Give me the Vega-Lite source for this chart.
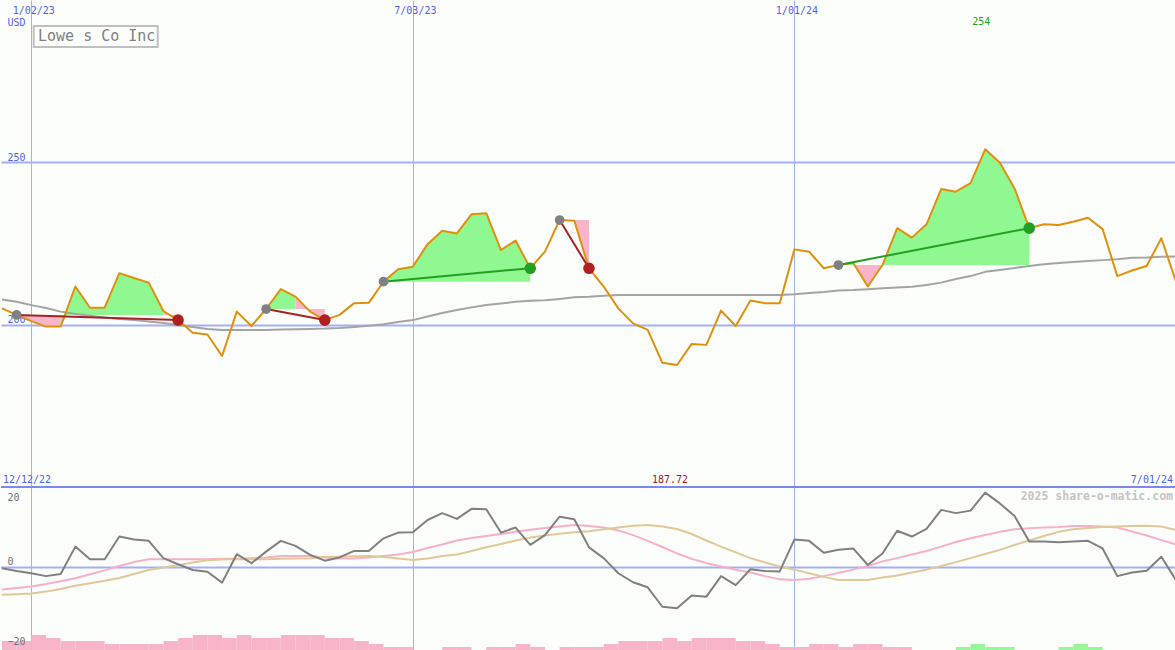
{
"$schema":"https://vega.github.io/schema/vega-lite/v6.json",
"background":"#fcfefc",
"padding":0,
"spacing":0,
"bounds":"flush",
"config":{"view":{"stroke":null},"font":"DejaVu Sans Mono","line":{"strokeJoin":"round","clip":true},"area":{"clip":true},"rule":{"clip":true}},
"resolve":{"scale":{"x":"independent","y":"independent","color":"independent"}},
"datasets":{
"px":[
{"d":"2022-12-19","v":205.1,"m":207.8},{"d":"2022-12-26","v":203.1,"m":207.1},{"d":"2023-01-02","v":201.2,"m":206.1},{"d":"2023-01-09","v":199.5,"m":205.2},{"d":"2023-01-16","v":199.5,"m":204.1},{"d":"2023-01-23","v":211.8,"m":203.4},{"d":"2023-01-30","v":205.3,"m":202.8},{"d":"2023-02-06","v":205.3,"m":202.3},{"d":"2023-02-13","v":215.9,"m":201.8},{"d":"2023-02-20","v":214.4,"m":201.5},{"d":"2023-02-27","v":213.0,"m":201.1},{"d":"2023-03-06","v":204.3,"m":200.6},{"d":"2023-03-13","v":201.5,"m":200.0},{"d":"2023-03-20","v":197.6,"m":199.4},{"d":"2023-03-27","v":197.1,"m":198.8},{"d":"2023-04-03","v":190.5,"m":198.5},{"d":"2023-04-10","v":204.1,"m":198.5},{"d":"2023-04-17","v":199.7,"m":198.5},{"d":"2023-04-24","v":204.9,"m":198.5},{"d":"2023-05-01","v":211.0,"m":198.6},{"d":"2023-05-08","v":208.7,"m":198.7},{"d":"2023-05-15","v":204.1,"m":198.8},{"d":"2023-05-22","v":201.5,"m":198.9},{"d":"2023-05-29","v":203.1,"m":199.1},{"d":"2023-06-05","v":206.7,"m":199.4},{"d":"2023-06-12","v":206.8,"m":199.8},{"d":"2023-06-19","v":213.3,"m":200.2},{"d":"2023-06-26","v":217.1,"m":200.9},{"d":"2023-07-03","v":217.9,"m":201.5},{"d":"2023-07-10","v":224.8,"m":202.6},{"d":"2023-07-17","v":228.9,"m":203.7},{"d":"2023-07-24","v":228.1,"m":204.6},{"d":"2023-07-31","v":234.0,"m":205.4},{"d":"2023-08-07","v":234.3,"m":206.1},{"d":"2023-08-14","v":223.0,"m":206.6},{"d":"2023-08-21","v":225.9,"m":207.1},{"d":"2023-08-28","v":217.4,"m":207.4},{"d":"2023-09-04","v":222.5,"m":207.6},{"d":"2023-09-11","v":232.2,"m":208.0},{"d":"2023-09-18","v":232.0,"m":208.5},{"d":"2023-09-25","v":217.4,"m":208.7},{"d":"2023-10-02","v":211.8,"m":209.0},{"d":"2023-10-09","v":205.1,"m":209.2},{"d":"2023-10-16","v":200.5,"m":209.2},{"d":"2023-10-23","v":198.5,"m":209.2},{"d":"2023-10-30","v":188.4,"m":209.2},{"d":"2023-11-06","v":187.72,"m":209.2},{"d":"2023-11-13","v":194.2,"m":209.2},{"d":"2023-11-20","v":193.9,"m":209.2},{"d":"2023-11-27","v":204.4,"m":209.2},{"d":"2023-12-04","v":199.7,"m":209.2},{"d":"2023-12-11","v":207.5,"m":209.2},{"d":"2023-12-18","v":206.7,"m":209.2},{"d":"2023-12-25","v":206.7,"m":209.2},{"d":"2024-01-01","v":223.2,"m":209.4},{"d":"2024-01-08","v":222.5,"m":209.8},{"d":"2024-01-15","v":217.4,"m":210.1},{"d":"2024-01-22","v":218.4,"m":210.6},{"d":"2024-01-29","v":219.1,"m":210.7},{"d":"2024-02-05","v":211.8,"m":211.0},{"d":"2024-02-12","v":218.4,"m":211.3},{"d":"2024-02-19","v":229.7,"m":211.5},{"d":"2024-02-26","v":226.8,"m":211.7},{"d":"2024-03-04","v":230.9,"m":212.3},{"d":"2024-03-11","v":241.7,"m":213.0},{"d":"2024-03-18","v":240.9,"m":214.1},{"d":"2024-03-25","v":243.5,"m":215.0},{"d":"2024-04-01","v":253.9,"m":216.3},{"d":"2024-04-08","v":249.8,"m":216.9},{"d":"2024-04-15","v":241.9,"m":217.5},{"d":"2024-04-22","v":229.7,"m":218.1},{"d":"2024-04-29","v":230.9,"m":218.6},{"d":"2024-05-06","v":230.7,"m":219.0},{"d":"2024-05-13","v":231.7,"m":219.3},{"d":"2024-05-20","v":232.9,"m":219.6},{"d":"2024-05-27","v":229.4,"m":219.9},{"d":"2024-06-03","v":215.0,"m":220.2},{"d":"2024-06-10","v":216.7,"m":220.6},{"d":"2024-06-17","v":218.1,"m":220.7},{"d":"2024-06-24","v":226.6,"m":220.9},{"d":"2024-07-01","v":213.3,"m":221.0}
],
"fills":[
{"g":1,"d":"2022-12-26","v":203.1,"b":203.1,"s":"down"},{"g":1,"d":"2023-01-02","v":201.2,"b":203.1,"s":"down"},{"g":1,"d":"2023-01-09","v":199.5,"b":203.1,"s":"down"},{"g":1,"d":"2023-01-16","v":199.5,"b":203.1,"s":"down"},
{"g":2,"d":"2023-01-16","v":199.5,"b":203.1,"s":"up"},{"g":2,"d":"2023-01-23","v":211.8,"b":203.1,"s":"up"},{"g":2,"d":"2023-01-30","v":205.3,"b":203.1,"s":"up"},{"g":2,"d":"2023-02-06","v":205.3,"b":203.1,"s":"up"},{"g":2,"d":"2023-02-13","v":215.9,"b":203.1,"s":"up"},{"g":2,"d":"2023-02-20","v":214.4,"b":203.1,"s":"up"},{"g":2,"d":"2023-02-27","v":213.0,"b":203.1,"s":"up"},{"g":2,"d":"2023-03-06","v":204.3,"b":203.1,"s":"up"},
{"g":3,"d":"2023-03-06","v":204.3,"b":203.1,"s":"down"},{"g":3,"d":"2023-03-13","v":201.5,"b":203.1,"s":"down"},
{"g":4,"d":"2023-04-24","v":204.9,"b":204.9,"s":"up"},{"g":4,"d":"2023-05-01","v":211.0,"b":204.9,"s":"up"},{"g":4,"d":"2023-05-08","v":208.7,"b":204.9,"s":"up"},
{"g":5,"d":"2023-05-08","v":208.7,"b":204.9,"s":"down"},{"g":5,"d":"2023-05-15","v":204.1,"b":204.9,"s":"down"},{"g":5,"d":"2023-05-22","v":201.5,"b":204.9,"s":"down"},
{"g":6,"d":"2023-06-19","v":213.3,"b":213.3,"s":"up"},{"g":6,"d":"2023-06-26","v":217.1,"b":213.3,"s":"up"},{"g":6,"d":"2023-07-03","v":217.9,"b":213.3,"s":"up"},{"g":6,"d":"2023-07-10","v":224.8,"b":213.3,"s":"up"},{"g":6,"d":"2023-07-17","v":228.9,"b":213.3,"s":"up"},{"g":6,"d":"2023-07-24","v":228.1,"b":213.3,"s":"up"},{"g":6,"d":"2023-07-31","v":234.0,"b":213.3,"s":"up"},{"g":6,"d":"2023-08-07","v":234.3,"b":213.3,"s":"up"},{"g":6,"d":"2023-08-14","v":223.0,"b":213.3,"s":"up"},{"g":6,"d":"2023-08-21","v":225.9,"b":213.3,"s":"up"},{"g":6,"d":"2023-08-28","v":217.4,"b":213.3,"s":"up"},
{"g":7,"d":"2023-09-11","v":232.2,"b":232.2,"s":"down"},{"g":7,"d":"2023-09-18","v":232.0,"b":232.2,"s":"down"},{"g":7,"d":"2023-09-25","v":217.4,"b":232.2,"s":"down"},
{"g":8,"d":"2024-01-22","v":218.4,"b":218.4,"s":"up"},{"g":8,"d":"2024-01-29","v":219.1,"b":218.4,"s":"up"},
{"g":9,"d":"2024-01-29","v":219.1,"b":218.4,"s":"down"},{"g":9,"d":"2024-02-05","v":211.8,"b":218.4,"s":"down"},{"g":9,"d":"2024-02-12","v":218.4,"b":218.4,"s":"down"},
{"g":10,"d":"2024-02-12","v":218.4,"b":218.4,"s":"up"},{"g":10,"d":"2024-02-19","v":229.7,"b":218.4,"s":"up"},{"g":10,"d":"2024-02-26","v":226.8,"b":218.4,"s":"up"},{"g":10,"d":"2024-03-04","v":230.9,"b":218.4,"s":"up"},{"g":10,"d":"2024-03-11","v":241.7,"b":218.4,"s":"up"},{"g":10,"d":"2024-03-18","v":240.9,"b":218.4,"s":"up"},{"g":10,"d":"2024-03-25","v":243.5,"b":218.4,"s":"up"},{"g":10,"d":"2024-04-01","v":253.9,"b":218.4,"s":"up"},{"g":10,"d":"2024-04-08","v":249.8,"b":218.4,"s":"up"},{"g":10,"d":"2024-04-15","v":241.9,"b":218.4,"s":"up"},{"g":10,"d":"2024-04-22","v":229.7,"b":218.4,"s":"up"}
],
"trades":[
{"t":1,"d":"2022-12-26","v":203.1,"role":"entry","res":"loss"},{"t":1,"d":"2023-03-13","v":201.5,"role":"exit","res":"loss"},
{"t":2,"d":"2023-04-24","v":204.9,"role":"entry","res":"loss"},{"t":2,"d":"2023-05-22","v":201.5,"role":"exit","res":"loss"},
{"t":3,"d":"2023-06-19","v":213.3,"role":"entry","res":"win"},{"t":3,"d":"2023-08-28","v":217.4,"role":"exit","res":"win"},
{"t":4,"d":"2023-09-11","v":232.2,"role":"entry","res":"loss"},{"t":4,"d":"2023-09-25","v":217.4,"role":"exit","res":"loss"},
{"t":5,"d":"2024-01-22","v":218.4,"role":"entry","res":"win"},{"t":5,"d":"2024-04-22","v":229.7,"role":"exit","res":"win"}
],
"osc":[
{"d":"2022-12-19","o":-0.2,"p":-6.1,"t":-7.6},{"d":"2022-12-26","o":-1.0,"p":-5.7,"t":-7.4},{"d":"2023-01-02","o":-1.6,"p":-5.3,"t":-7.2},{"d":"2023-01-09","o":-2.4,"p":-4.6,"t":-6.7},{"d":"2023-01-16","o":-1.8,"p":-3.8,"t":-6.0},{"d":"2023-01-23","o":5.8,"p":-3.0,"t":-5.1},{"d":"2023-01-30","o":2.3,"p":-1.9,"t":-4.4},{"d":"2023-02-06","o":2.3,"p":-0.8,"t":-3.7},{"d":"2023-02-13","o":8.6,"p":0.4,"t":-2.9},{"d":"2023-02-20","o":7.8,"p":1.5,"t":-1.8},{"d":"2023-02-27","o":7.4,"p":2.3,"t":-0.7},{"d":"2023-03-06","o":2.6,"p":2.3,"t":0.0},{"d":"2023-03-13","o":0.9,"p":2.3,"t":0.6},{"d":"2023-03-20","o":-0.7,"p":2.3,"t":1.4},{"d":"2023-03-27","o":-1.2,"p":2.3,"t":2.0},{"d":"2023-04-03","o":-4.2,"p":2.4,"t":2.2},{"d":"2023-04-10","o":3.7,"p":2.4,"t":2.3},{"d":"2023-04-17","o":1.2,"p":2.6,"t":2.3},{"d":"2023-04-24","o":4.4,"p":2.8,"t":2.3},{"d":"2023-05-01","o":7.4,"p":3.2,"t":2.4},{"d":"2023-05-08","o":6.0,"p":3.2,"t":2.5},{"d":"2023-05-15","o":3.5,"p":3.2,"t":2.6},{"d":"2023-05-22","o":1.9,"p":2.8,"t":2.9},{"d":"2023-05-29","o":2.8,"p":2.5,"t":3.0},{"d":"2023-06-05","o":4.6,"p":2.5,"t":3.1},{"d":"2023-06-12","o":4.6,"p":2.8,"t":3.2},{"d":"2023-06-19","o":8.1,"p":3.2,"t":2.9},{"d":"2023-06-26","o":9.7,"p":3.6,"t":2.5},{"d":"2023-07-03","o":9.8,"p":4.3,"t":2.1},{"d":"2023-07-10","o":13.2,"p":5.4,"t":2.5},{"d":"2023-07-17","o":15.1,"p":6.4,"t":3.2},{"d":"2023-07-24","o":13.5,"p":7.5,"t":3.6},{"d":"2023-07-31","o":16.3,"p":8.2,"t":4.6},{"d":"2023-08-07","o":16.2,"p":8.75,"t":5.6},{"d":"2023-08-14","o":9.7,"p":9.3,"t":6.5},{"d":"2023-08-21","o":11.1,"p":9.9,"t":7.5},{"d":"2023-08-28","o":6.3,"p":10.5,"t":8.3},{"d":"2023-09-04","o":9.0,"p":11.0,"t":8.9},{"d":"2023-09-11","o":14.1,"p":11.4,"t":9.4},{"d":"2023-09-18","o":13.4,"p":11.8,"t":9.8},{"d":"2023-09-25","o":5.6,"p":11.5,"t":10.1},{"d":"2023-10-02","o":2.6,"p":11.1,"t":10.6},{"d":"2023-10-09","o":-1.6,"p":10.3,"t":11.1},{"d":"2023-10-16","o":-4.1,"p":9.0,"t":11.6},{"d":"2023-10-23","o":-5.5,"p":7.4,"t":11.8},{"d":"2023-10-30","o":-10.9,"p":5.7,"t":11.4},{"d":"2023-11-06","o":-11.3,"p":3.9,"t":10.7},{"d":"2023-11-13","o":-7.8,"p":2.4,"t":9.3},{"d":"2023-11-20","o":-8.1,"p":1.25,"t":7.5},{"d":"2023-11-27","o":-2.4,"p":0.3,"t":5.8},{"d":"2023-12-04","o":-4.9,"p":-0.6,"t":4.2},{"d":"2023-12-11","o":-0.5,"p":-1.4,"t":2.6},{"d":"2023-12-18","o":-1.0,"p":-2.4,"t":1.4},{"d":"2023-12-25","o":-1.1,"p":-3.3,"t":0.3},{"d":"2024-01-01","o":7.8,"p":-3.5,"t":-0.6},{"d":"2024-01-08","o":7.4,"p":-3.1,"t":-1.6},{"d":"2024-01-15","o":4.1,"p":-2.4,"t":-2.6},{"d":"2024-01-22","o":4.9,"p":-1.5,"t":-3.5},{"d":"2024-01-29","o":5.3,"p":-0.6,"t":-3.5},{"d":"2024-02-05","o":0.7,"p":0.4,"t":-3.5},{"d":"2024-02-12","o":3.9,"p":1.7,"t":-2.8},{"d":"2024-02-19","o":10.2,"p":2.6,"t":-2.2},{"d":"2024-02-26","o":8.6,"p":3.6,"t":-1.4},{"d":"2024-03-04","o":10.7,"p":4.6,"t":-0.6},{"d":"2024-03-11","o":16.0,"p":5.8,"t":0.4},{"d":"2024-03-18","o":15.1,"p":7.1,"t":1.5},{"d":"2024-03-25","o":15.8,"p":8.1,"t":2.6},{"d":"2024-04-01","o":20.8,"p":9.0,"t":3.75},{"d":"2024-04-08","o":17.8,"p":9.9,"t":4.9},{"d":"2024-04-15","o":14.3,"p":10.6,"t":6.25},{"d":"2024-04-22","o":7.2,"p":10.9,"t":7.5},{"d":"2024-04-29","o":7.2,"p":11.1,"t":8.75},{"d":"2024-05-06","o":7.0,"p":11.25,"t":9.9},{"d":"2024-05-13","o":7.2,"p":11.5,"t":10.6},{"d":"2024-05-20","o":7.4,"p":11.5,"t":11.0},{"d":"2024-05-27","o":5.3,"p":11.4,"t":11.25},{"d":"2024-06-03","o":-2.4,"p":11.1,"t":11.4},{"d":"2024-06-10","o":-1.4,"p":10.0,"t":11.5},{"d":"2024-06-17","o":-0.9,"p":8.9,"t":11.6},{"d":"2024-06-24","o":3.0,"p":7.6,"t":11.4},{"d":"2024-07-01","o":-3.5,"p":6.4,"t":10.4}
],
"bars":[
{"d":"2022-12-19","e":"2022-12-26","k":3,"s":"down"},{"d":"2022-12-26","e":"2023-01-02","k":3,"s":"down"},{"d":"2023-01-02","e":"2023-01-09","k":5,"s":"down"},{"d":"2023-01-09","e":"2023-01-16","k":4,"s":"down"},{"d":"2023-01-16","e":"2023-01-23","k":3,"s":"down"},{"d":"2023-01-23","e":"2023-01-30","k":3,"s":"down"},{"d":"2023-01-30","e":"2023-02-06","k":3,"s":"down"},{"d":"2023-02-06","e":"2023-02-13","k":2,"s":"down"},{"d":"2023-02-13","e":"2023-02-20","k":2,"s":"down"},{"d":"2023-02-20","e":"2023-02-27","k":2,"s":"down"},{"d":"2023-02-27","e":"2023-03-06","k":2,"s":"down"},{"d":"2023-03-06","e":"2023-03-13","k":3,"s":"down"},{"d":"2023-03-13","e":"2023-03-20","k":4,"s":"down"},{"d":"2023-03-20","e":"2023-03-27","k":5,"s":"down"},{"d":"2023-03-27","e":"2023-04-03","k":5,"s":"down"},{"d":"2023-04-03","e":"2023-04-10","k":4,"s":"down"},{"d":"2023-04-10","e":"2023-04-17","k":5,"s":"down"},{"d":"2023-04-17","e":"2023-04-24","k":4,"s":"down"},{"d":"2023-04-24","e":"2023-05-01","k":4,"s":"down"},{"d":"2023-05-01","e":"2023-05-08","k":5,"s":"down"},{"d":"2023-05-08","e":"2023-05-15","k":5,"s":"down"},{"d":"2023-05-15","e":"2023-05-22","k":5,"s":"down"},{"d":"2023-05-22","e":"2023-05-29","k":4,"s":"down"},{"d":"2023-05-29","e":"2023-06-05","k":4,"s":"down"},{"d":"2023-06-05","e":"2023-06-12","k":3,"s":"down"},{"d":"2023-06-12","e":"2023-06-19","k":2,"s":"down"},{"d":"2023-06-19","e":"2023-06-26","k":1,"s":"down"},{"d":"2023-06-26","e":"2023-07-03","k":1,"s":"down"},{"d":"2023-07-17","e":"2023-07-24","k":1,"s":"down"},{"d":"2023-07-24","e":"2023-07-31","k":1,"s":"down"},{"d":"2023-08-07","e":"2023-08-14","k":1,"s":"down"},{"d":"2023-08-14","e":"2023-08-21","k":1,"s":"down"},{"d":"2023-08-21","e":"2023-08-28","k":2,"s":"down"},{"d":"2023-08-28","e":"2023-09-04","k":1,"s":"down"},{"d":"2023-09-11","e":"2023-09-18","k":1,"s":"down"},{"d":"2023-09-18","e":"2023-09-25","k":1,"s":"down"},{"d":"2023-09-25","e":"2023-10-02","k":1,"s":"down"},{"d":"2023-10-02","e":"2023-10-09","k":2,"s":"down"},{"d":"2023-10-09","e":"2023-10-16","k":3,"s":"down"},{"d":"2023-10-16","e":"2023-10-23","k":3,"s":"down"},{"d":"2023-10-23","e":"2023-10-30","k":3,"s":"down"},{"d":"2023-10-30","e":"2023-11-06","k":4,"s":"down"},{"d":"2023-11-06","e":"2023-11-13","k":3,"s":"down"},{"d":"2023-11-13","e":"2023-11-20","k":4,"s":"down"},{"d":"2023-11-20","e":"2023-11-27","k":4,"s":"down"},{"d":"2023-11-27","e":"2023-12-04","k":4,"s":"down"},{"d":"2023-12-04","e":"2023-12-11","k":3,"s":"down"},{"d":"2023-12-11","e":"2023-12-18","k":3,"s":"down"},{"d":"2023-12-18","e":"2023-12-25","k":2,"s":"down"},{"d":"2023-12-25","e":"2024-01-01","k":1,"s":"down"},{"d":"2024-01-01","e":"2024-01-08","k":1,"s":"down"},{"d":"2024-01-08","e":"2024-01-15","k":2,"s":"down"},{"d":"2024-01-15","e":"2024-01-22","k":2,"s":"down"},{"d":"2024-01-22","e":"2024-01-29","k":1,"s":"down"},{"d":"2024-01-29","e":"2024-02-05","k":2,"s":"down"},{"d":"2024-02-05","e":"2024-02-12","k":2,"s":"down"},{"d":"2024-02-12","e":"2024-02-19","k":1,"s":"down"},{"d":"2024-02-19","e":"2024-02-26","k":1,"s":"down"},{"d":"2024-03-18","e":"2024-03-25","k":1,"s":"up"},{"d":"2024-03-25","e":"2024-04-01","k":2,"s":"up"},{"d":"2024-04-01","e":"2024-04-08","k":1,"s":"up"},{"d":"2024-04-08","e":"2024-04-15","k":1,"s":"up"},{"d":"2024-05-06","e":"2024-05-13","k":1,"s":"up"},{"d":"2024-05-13","e":"2024-05-20","k":2,"s":"up"},{"d":"2024-05-20","e":"2024-05-27","k":1,"s":"up"}
],
"title":[{"d":"2023-02-01T17:00:00Z","v":288.5,"t":"Lowe s Co Inc"}]
},
"vconcat":[
{
"width":1175,"height":487,
"encoding":{
 "x":{"field":"d","type":"temporal","scale":{"type":"utc","domain":[{"year":2022,"month":12,"date":18,"hours":13,"utc":true},{"year":2024,"month":7,"date":1,"utc":true}]},
  "axis":{"orient":"top","values":[{"year":2023,"month":1,"date":2,"utc":true},{"year":2023,"month":7,"date":3,"utc":true},{"year":2024,"month":1,"date":1,"utc":true}],"format":"%-m/%d/%y","grid":true,"gridColor":"#a4b0f4","gridWidth":1,"domain":false,"ticks":false,"tickSize":0,"labelPadding":-13,"labelBaseline":"alphabetic","labelAlign":"center","labelOffset":2,"labelColor":"#5060f0","labelFontSize":10,"labelFont":"DejaVu Sans Mono","labelFlush":false,"labelOverlap":false,"title":null}},
 "y":{"field":"v","type":"quantitative","scale":{"domain":[150.3,299.7],"nice":false,"zero":false},
  "axis":{"values":[200,250],"grid":true,"gridColor":"#a4b0f4","gridWidth":2,"domain":false,"ticks":false,"tickSize":0,"labelAlign":"left","labelBaseline":"alphabetic","labelPadding":-6,"labelOffset":-2,"labelColor":"#5060f0","labelFontSize":10,"labelFont":"DejaVu Sans Mono","labelFlush":false,"title":"USD","titleAngle":0,"titleX":6,"titleY":25,"titleAlign":"left","titleBaseline":"alphabetic","titleFontWeight":"normal","titleFontSize":10,"titleFont":"DejaVu Sans Mono","titleColor":"#5060f0"}}
},
"layer":[
 {"data":{"name":"fills"},"mark":{"type":"area","opacity":1},
  "encoding":{"y":{"field":"v","type":"quantitative","stack":null,"scale":{"domain":[150.3,299.7],"nice":false,"zero":false}},"y2":{"field":"b"},"detail":{"field":"g","type":"nominal"},
   "color":{"field":"s","type":"nominal","scale":{"domain":["up","down"],"range":["#90f890","#f8b4c8"]},"legend":null}}},
 {"data":{"name":"px"},"mark":{"type":"line","color":"#a4a4a4","strokeWidth":2},
  "encoding":{"y":{"field":"m","type":"quantitative","scale":{"domain":[150.3,299.7],"nice":false,"zero":false}}}},
 {"data":{"name":"px"},"mark":{"type":"line","color":"#e0900c","strokeWidth":2}},
 {"data":{"name":"trades"},"mark":{"type":"line","strokeWidth":2},
  "encoding":{"detail":{"field":"t","type":"nominal"},"color":{"field":"res","type":"nominal","scale":{"domain":["win","loss"],"range":["#22a022","#a82222"]},"legend":null}}},
 {"data":{"name":"trades"},"transform":[{"filter":"datum.role === 'entry'"}],"mark":{"type":"circle","size":95,"color":"#808080","opacity":1}},
 {"data":{"name":"trades"},"transform":[{"filter":"datum.role === 'exit'"}],"mark":{"type":"circle","size":135,"opacity":1},
  "encoding":{"color":{"field":"res","type":"nominal","scale":{"domain":["win","loss"],"range":["#22a022","#b02020"]},"legend":null}}},
 {"data":{"name":"title"},"mark":{"type":"point","shape":"M-1,-0.1694L1,-0.1694L1,0.1694L-1,0.1694Z","size":15376,"filled":false,"stroke":"#c0c0c0","strokeWidth":2,"opacity":1}},
 {"data":{"name":"title"},"mark":{"type":"text","align":"center","baseline":"alphabetic","dx":1,"dy":4,"fontSize":15,"font":"DejaVu Sans Mono","color":"#808080"},"encoding":{"text":{"field":"t"}}},
 {"data":{"values":[{"d":"2022-12-19","v":151.5,"t":"12/12/22"}]},"mark":{"type":"text","align":"left","baseline":"alphabetic","dx":1,"fontSize":10,"font":"DejaVu Sans Mono","color":"#5060f0"},"encoding":{"text":{"field":"t"}}},
 {"data":{"values":[{"d":"2024-07-01","v":151.5,"t":"7/01/24"}]},"mark":{"type":"text","align":"right","baseline":"alphabetic","dx":-3,"fontSize":10,"font":"DejaVu Sans Mono","color":"#5060f0"},"encoding":{"text":{"field":"t"}}},
 {"data":{"values":[{"d":"2023-11-06","v":151.5,"t":"187.72"}]},"mark":{"type":"text","align":"center","baseline":"alphabetic","dx":-7,"fontSize":10,"font":"DejaVu Sans Mono","color":"#a02020"},"encoding":{"text":{"field":"t"}}},
 {"data":{"values":[{"d":"2024-04-01","v":292.0,"t":"254"}]},"mark":{"type":"text","align":"center","baseline":"alphabetic","dx":-4,"fontSize":10,"font":"DejaVu Sans Mono","color":"#20a020"},"encoding":{"text":{"field":"t"}}}
],
"resolve":{"scale":{"color":"independent"}}
},
{
"width":1175,"height":163,
"layer":[
 {"data":{"name":"bars"},"mark":{"type":"rect"},
  "encoding":{
   "x":{"field":"d","type":"temporal","scale":{"type":"utc","domain":[{"year":2022,"month":12,"date":18,"hours":13,"utc":true},{"year":2024,"month":7,"date":1,"utc":true}]},
    "axis":{"orient":"bottom","values":[{"year":2023,"month":1,"date":2,"utc":true},{"year":2023,"month":7,"date":3,"utc":true},{"year":2024,"month":1,"date":1,"utc":true}],"grid":true,"gridColor":"#a4b0f4","gridWidth":1,"labels":false,"domain":false,"ticks":false,"title":null}},
   "x2":{"field":"e"},
   "y":{"field":"k","type":"quantitative","scale":{"domain":[0,54.33],"nice":false,"zero":false},"axis":null},
   "y2":{"datum":0},
   "color":{"field":"s","type":"nominal","scale":{"domain":["up","down"],"range":["#98f898","#f8b4c8"]},"legend":null}}},
 {"layer":[
   {"data":{"values":[{}]},"mark":{"type":"rule","color":"#a4b0f4","strokeWidth":2},
    "encoding":{"y":{"datum":0,"type":"quantitative","scale":{"domain":[-22.92,22.36],"nice":false,"zero":false},
     "axis":{"values":[-20,0,20],"grid":false,"domain":false,"ticks":false,"tickSize":0,"zindex":1,"labelAlign":"left","labelBaseline":"alphabetic","labelPadding":-6,"labelOffset":{"condition":{"test":"datum.value === 0","value":-3},"value":5},"labelColor":"#707070","labelFontSize":10,"labelFont":"DejaVu Sans Mono","labelFlush":false,"title":null}}}},
   {"data":{"name":"osc"},"mark":{"type":"line","color":"#f8b0c8","strokeWidth":2},
    "encoding":{"x":{"field":"d","type":"temporal"},"y":{"field":"p","type":"quantitative","scale":{"domain":[-22.92,22.36],"nice":false,"zero":false}}}},
   {"data":{"name":"osc"},"mark":{"type":"line","color":"#e2c898","strokeWidth":2},
    "encoding":{"x":{"field":"d","type":"temporal"},"y":{"field":"t","type":"quantitative","scale":{"domain":[-22.92,22.36],"nice":false,"zero":false}}}},
   {"data":{"name":"osc"},"mark":{"type":"line","color":"#808080","strokeWidth":2},
    "encoding":{"x":{"field":"d","type":"temporal"},"y":{"field":"o","type":"quantitative","scale":{"domain":[-22.92,22.36],"nice":false,"zero":false}}}},
   {"data":{"values":[{}]},"mark":{"type":"rule","color":"#7a88f0","strokeWidth":2},
    "encoding":{"y":{"datum":22.36,"type":"quantitative"}}},
   {"data":{"values":[{}]},"mark":{"type":"text","text":"2025 share-o-matic.com","align":"right","baseline":"alphabetic","dx":-3,"fontSize":11.5,"fontWeight":"bold","font":"DejaVu Sans Mono","color":"#c4c4c4"},
    "encoding":{"x":{"datum":{"year":2024,"month":7,"date":1,"utc":true},"type":"temporal"},"y":{"datum":18.75,"type":"quantitative"}}}
 ]}
],
"resolve":{"scale":{"y":"independent"}}
}
]
}
